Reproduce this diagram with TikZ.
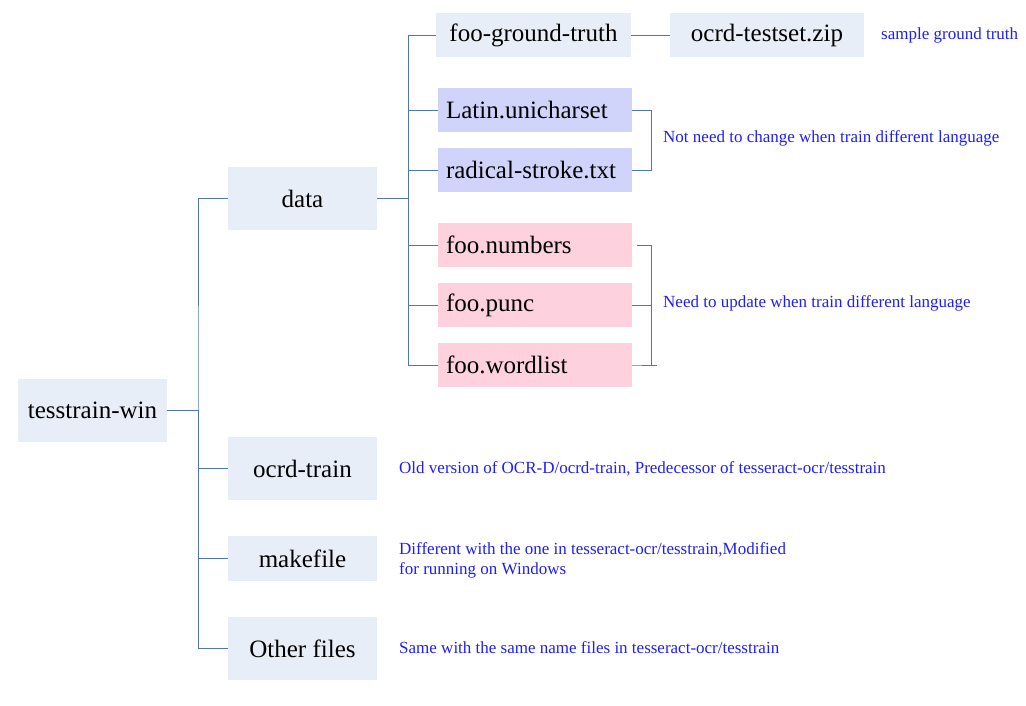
\documentclass[tikz,border=0pt]{standalone}
\usepackage{fontspec}
\setmainfont{Liberation Serif}
\definecolor{boxgray}{HTML}{E8EEF7}
\definecolor{boxblue}{HTML}{D0D4FB}
\definecolor{boxpink}{HTML}{FDD2DE}
\definecolor{wire}{HTML}{4F75BA}
\definecolor{note}{HTML}{1F1FF5}
\tikzset{
  dirbox/.style={fill=boxgray, inner sep=0pt, minimum width=149pt, minimum height=63pt,
                 font=\fontsize{25}{29}\selectfont},
  filebox/.style={fill=#1, inner sep=0pt, minimum width=194pt, minimum height=44pt,
                  text width=178pt, align=left, font=\fontsize{25}{29}\selectfont},
  filebox/.default=boxgray,
  notetext/.style={anchor=west, inner sep=0pt, text=note, font=\fontsize{17}{20}\selectfont, align=left},
  wired/.style={draw=wire, line width=0.8pt}
}
\begin{document}
\begin{tikzpicture}[x=1pt, y=-1pt]
      \useasboundingbox (0, 0) rectangle (1026, 705);
      % left tree
      \node (root) [dirbox] at (92.5, 410) {tesstrain-win};
      \node (data) [dirbox] at (302.5, 198.5) {data};
      \node (ocrd) [dirbox] at (302.5, 468.5) {ocrd-train};
      \node (make) [dirbox, minimum height=45pt] at (302.5, 558.5) {makefile};
      \node (other) [dirbox] at (302.5, 648.5) {Other files};
      % contents of data
      \node (gt) [filebox, align=center, minimum width=195pt] at (533.5, 35) {foo-ground-truth};
      \node (zip) [filebox, align=center] at (767, 35) {ocrd-testset.zip};
      \node (uni) [filebox=boxblue] at (535, 110) {Latin.unicharset};
      \node (rad) [filebox=boxblue] at (535, 170) {radical-stroke.txt};
      \node (num) [filebox=boxpink] at (535, 245) {foo.numbers};
      \node (punc) [filebox=boxpink] at (535, 305) {foo.punc};
      \node (word) [filebox=boxpink] at (535, 365) {foo.wordlist};
      % notes
      \node (ngt) [notetext] at (881, 35) {sample ground truth};
      \node (nfix) [notetext] at (663, 138) {Not need to change when train different language};
      \node (nupd) [notetext] at (663, 303) {Need to update when train different language};
      \node (nocrd) [notetext] at (399, 469) {Old version of OCR-D/ocrd-train, Predecessor of tesseract-ocr/tesstrain};
      \node (nmake) [notetext] at (399, 560) {Different with the one in tesseract-ocr/tesstrain,Modified\\for running on Windows};
      \node (nother) [notetext] at (399, 648) {Same with the same name files in tesseract-ocr/tesstrain};
      % connectors
      \coordinate (trunk) at (198, 410);
      \coordinate (branch) at (408, 198.5);
      \draw[wired] (root.east) -- (trunk)
                   (data.west) -| (trunk) |- (other.west)
                   (ocrd.west) -| (trunk)
                   (make.west) -| (trunk);
      \draw[wired] (data.east) -- (branch)
                   (gt.west) -| (branch) |- (word.west)
                   (uni.west) -| (branch)
                   (rad.west) -| (branch)
                   (num.west) -| (branch)
                   (punc.west) -| (branch);
      \draw[wired] (gt.east) -- (zip.west);
      \draw[wired] (uni.east) -- ++(19, 0) |- (rad.east);
      \draw[wired] ([xshift=5pt]num.east) -- ++(14, 0) |- (word.east) -- ++(25, 0)
                   (punc.east) -- ++(19, 0);
\end{tikzpicture}
\end{document}
